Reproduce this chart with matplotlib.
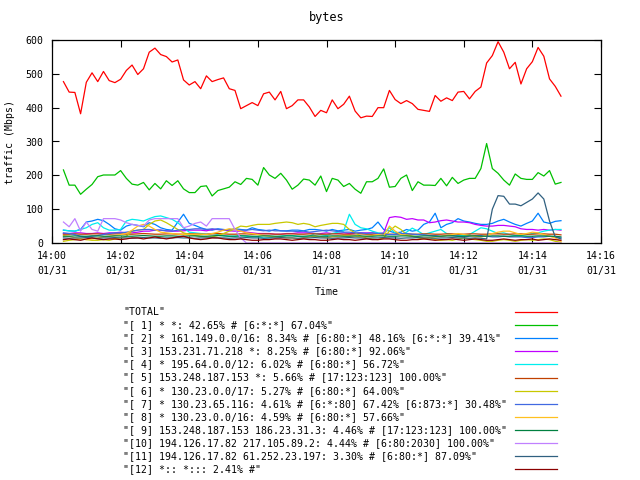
import pandas as pd
import matplotlib
matplotlib.use("Agg")
import matplotlib.pyplot as plt
import matplotlib.dates as mdates
from matplotlib.lines import Line2D

# sample times: every 10 s from 14:00:20
times = pd.date_range("2000-01-31 14:00:20", periods=88, freq="10s")

total = [477, 446, 445, 382, 475, 503, 477, 507, 480, 474,
         484, 510, 526, 498, 515, 564, 576, 557, 551, 535,
         541, 482, 467, 477, 456, 494, 477, 483, 488, 456,
         451, 397, 406, 415, 406, 441, 446, 423, 448, 397,
         406, 423, 423, 402, 374, 392, 385, 423, 397, 410,
         434, 390, 370, 375, 374, 400, 400, 451, 424, 412,
         421, 412, 395, 392, 389, 436, 419, 429, 421, 446,
         448, 426, 448, 461, 532, 554, 595, 564, 515, 534,
         470, 515, 536, 578, 552, 485, 463, 434]

s1 = [216, 171, 171, 144, 159, 173, 196, 201, 201, 201,
      214, 191, 174, 171, 179, 157, 176, 160, 184, 170,
      184, 160, 149, 149, 167, 169, 139, 155, 160, 165,
      181, 173, 191, 188, 171, 223, 201, 191, 206, 186,
      159, 171, 189, 186, 171, 198, 152, 191, 186, 167,
      176, 159, 147, 181, 181, 191, 219, 165, 167, 191,
      201, 155, 181, 171, 171, 170, 191, 169, 194, 176,
      186, 191, 191, 220, 294, 220, 206, 186, 171, 204,
      191, 188, 188, 208, 198, 214, 174, 179]

s2 = [38, 36, 35, 40, 62, 65, 70, 66, 55, 42,
      38, 50, 55, 52, 48, 60, 55, 45, 40, 38,
      62, 85, 58, 52, 45, 40, 38, 42, 40, 38,
      42, 40, 38, 45, 40, 38, 35, 40, 36, 36,
      38, 38, 36, 40, 40, 38, 35, 40, 36, 38,
      40, 35, 38, 40, 45, 62, 40, 35, 30, 32,
      40, 35, 38, 55, 62, 88, 45, 55, 60, 72,
      65, 62, 58, 55, 55, 58, 65, 70, 62, 55,
      50, 58, 65, 88, 62, 58, 64, 66]

s3 = [28, 28, 30, 30, 28, 28, 30, 28, 30, 30,
      32, 30, 30, 32, 35, 35, 38, 38, 36, 35,
      35, 36, 38, 38, 38, 36, 40, 40, 38, 36,
      35, 35, 32, 30, 28, 28, 28, 26, 26, 28,
      28, 30, 30, 30, 28, 28, 30, 28, 28, 30,
      28, 28, 30, 30, 30, 28, 30, 75, 78, 76,
      70, 72, 68, 68, 60, 62, 66, 68, 65, 62,
      62, 60, 55, 52, 50, 50, 52, 52, 50, 48,
      42, 40, 40, 38, 40, 38, 40, 38]

s4 = [38, 36, 35, 40, 45, 55, 60, 45, 38, 38,
      40, 65, 70, 68, 65, 72, 78, 80, 75, 70,
      60, 45, 32, 30, 28, 26, 28, 25, 22, 20,
      20, 22, 20, 18, 18, 15, 15, 18, 20, 22,
      22, 20, 18, 20, 28, 25, 22, 28, 32, 35,
      85, 55, 45, 42, 35, 30, 28, 45, 30, 25,
      32, 44, 35, 25, 30, 35, 40, 28, 25, 22,
      22, 25, 35, 45, 42, 35, 28, 30, 25, 22,
      22, 25, 28, 30, 35, 38, 40, 40]

s5 = [26, 26, 27, 26, 26, 27, 27, 26, 26, 27,
      27, 26, 26, 27, 28, 27, 26, 26, 27, 27,
      26, 26, 27, 27, 26, 26, 27, 28, 27, 26,
      26, 27, 27, 26, 26, 27, 27, 26, 26, 27,
      27, 26, 26, 27, 27, 26, 26, 27, 27, 26,
      26, 27, 27, 26, 26, 27, 27, 26, 26, 27,
      27, 26, 26, 27, 27, 26, 26, 27, 27, 26,
      26, 27, 27, 26, 26, 27, 27, 26, 26, 27,
      27, 26, 26, 27, 27, 26, 26, 24]

s6 = [5, 8, 10, 12, 10, 8, 8, 10, 8, 12,
      15, 20, 35, 38, 40, 55, 65, 68, 60, 50,
      40, 30, 25, 22, 20, 18, 18, 22, 28, 35,
      42, 50, 48, 52, 55, 55, 55, 58, 60, 62,
      60, 55, 58, 55, 48, 52, 55, 58, 58, 55,
      40, 30, 20, 15, 12, 10, 15, 35, 50, 40,
      25, 20, 15, 12, 15, 10, 8, 10, 8, 12,
      15, 12, 10, 8, 5, 5, 8, 10, 8, 5,
      8, 10, 8, 10, 12, 10, 5, 2]

s7 = [30, 28, 25, 20, 18, 20, 22, 25, 28, 30,
      30, 32, 35, 38, 40, 40, 38, 38, 36, 35,
      38, 40, 40, 42, 42, 40, 42, 40, 38, 40,
      40, 38, 38, 40, 38, 36, 38, 36, 36, 35,
      35, 34, 35, 32, 34, 36, 38, 36, 34, 32,
      32, 30, 30, 28, 30, 28, 26, 25, 25, 28,
      28, 26, 25, 24, 22, 22, 20, 22, 22, 20,
      18, 20, 22, 22, 20, 18, 18, 20, 18, 18,
      18, 16, 16, 18, 18, 20, 18, 15]

s8 = [22, 20, 15, 12, 10, 12, 15, 18, 20, 22,
      25, 28, 38, 50, 55, 50, 40, 32, 30, 28,
      26, 25, 25, 26, 26, 25, 28, 32, 38, 42,
      40, 35, 30, 28, 25, 22, 20, 18, 18, 15,
      15, 12, 15, 18, 20, 18, 15, 18, 20, 22,
      22, 20, 18, 20, 22, 25, 22, 50, 35, 25,
      22, 20, 18, 15, 15, 18, 20, 22, 25, 28,
      25, 22, 20, 18, 22, 28, 32, 35, 35, 30,
      25, 28, 32, 30, 25, 20, 15, 5]

s9 = [20, 20, 21, 20, 20, 21, 21, 20, 20, 21,
      21, 20, 20, 21, 22, 21, 20, 20, 21, 21,
      20, 20, 21, 21, 20, 20, 21, 22, 21, 20,
      20, 21, 21, 20, 20, 21, 21, 20, 20, 21,
      21, 20, 20, 21, 21, 20, 20, 21, 21, 20,
      20, 21, 21, 20, 20, 21, 21, 20, 20, 21,
      21, 20, 20, 21, 21, 20, 20, 21, 21, 20,
      20, 21, 21, 20, 20, 21, 21, 20, 20, 21,
      21, 20, 20, 21, 21, 20, 20, 18]

s10 = [62, 48, 72, 35, 62, 40, 35, 72, 72, 72,
       68, 60, 55, 52, 50, 68, 72, 72, 72, 72,
       72, 45, 50, 58, 62, 50, 72, 72, 72, 72,
       40, 15, 0, 0, 0, 0, 0, 0, 0, 0,
       0, 0, 0, 0, 0, 0, 0, 0, 0, 0,
       0, 0, 0, 0, 0, 0, 0, 0, 0, 0,
       0, 0, 0, 0, 0, 0, 0, 0, 0, 0,
       0, 0, 0, 0, 0, 0, 0, 0, 0, 0,
       0, 0, 0, 0, 0, 0, 0, 0]

s11 = [15, 14, 15, 15, 16, 15, 14, 15, 15, 16,
       15, 15, 14, 15, 16, 15, 15, 14, 15, 15,
       16, 15, 15, 14, 15, 15, 16, 15, 15, 14,
       15, 15, 16, 15, 15, 14, 15, 15, 16, 15,
       15, 14, 15, 15, 16, 15, 15, 14, 15, 15,
       16, 15, 15, 14, 15, 15, 16, 15, 15, 14,
       15, 15, 16, 15, 15, 14, 15, 15, 16, 15,
       15, 14, 15, 14, 12, 100, 140, 138, 115, 115,
       110, 120, 130, 148, 130, 65, 18, 12]

s12 = [10, 12, 10, 8, 12, 15, 12, 10, 12, 12,
       10, 12, 15, 15, 12, 15, 18, 15, 12, 15,
       18, 20, 15, 12, 10, 12, 15, 15, 12, 10,
       10, 12, 10, 8, 8, 10, 10, 12, 12, 10,
       8, 10, 12, 10, 10, 8, 8, 10, 12, 10,
       10, 8, 10, 12, 10, 10, 12, 12, 10, 8,
       8, 10, 10, 12, 10, 8, 10, 10, 12, 10,
       8, 10, 12, 10, 8, 8, 10, 12, 10, 8,
       10, 10, 12, 8, 10, 12, 10, 8]

labels = [
    '"TOTAL"',
    '"[ 1] * *: 42.65% # [6:*:*] 67.04%"',
    '"[ 2] * 161.149.0.0/16: 8.34% # [6:80:*] 48.16% [6:*:*] 39.41%"',
    '"[ 3] 153.231.71.218 *: 8.25% # [6:80:*] 92.06%"',
    '"[ 4] * 195.64.0.0/12: 6.02% # [6:80:*] 56.72%"',
    '"[ 5] 153.248.187.153 *: 5.66% # [17:123:123] 100.00%"',
    '"[ 6] * 130.23.0.0/17: 5.27% # [6:80:*] 64.00%"',
    '"[ 7] * 130.23.65.116: 4.61% # [6:*:80] 67.42% [6:873:*] 30.48%"',
    '"[ 8] * 130.23.0.0/16: 4.59% # [6:80:*] 57.66%"',
    '"[ 9] 153.248.187.153 186.23.31.3: 4.46% # [17:123:123] 100.00%"',
    '"[10] 194.126.17.82 217.105.89.2: 4.44% # [6:80:2030] 100.00%"',
    '"[11] 194.126.17.82 61.252.23.197: 3.30% # [6:80:*] 87.09%"',
    '"[12] *:: *::: 2.41% #"',
]
series = [total, s1, s2, s3, s4, s5, s6, s7, s8, s9, s10, s11, s12]
colors = ["#ff0000", "#00c000", "#0080ff", "#c000ff", "#00eeee", "#c04000",
          "#c8c800", "#4169e1", "#ffc020", "#008040", "#c080ff", "#306080",
          "#8b0000"]

plt.rcParams["font.family"] = ["DejaVu Sans Mono"]
plt.rcParams["font.size"] = 7.1

fig = plt.figure(figsize=(6.4, 4.8), dpi=100)
ax = fig.add_axes([52 / 640, 1 - 243 / 480, 549 / 640, 203 / 480])

for vals, c in zip(series, colors):
    ax.plot(times, vals, color=c, lw=0.9)

ax.set_ylim(0, 600)
ax.set_yticks(range(0, 601, 100))
ax.set_xlim(pd.Timestamp("2000-01-31 14:00"), pd.Timestamp("2000-01-31 14:16"))
ax.xaxis.set_major_locator(mdates.MinuteLocator(byminute=range(0, 60, 2)))
ax.xaxis.set_major_formatter(mdates.DateFormatter("%H:%M\n%m/%d"))
ax.tick_params(direction="in", top=True, right=True, length=5, width=0.8, pad=6)
for lab in ax.get_xticklabels():
    lab.set_linespacing(1.6)
for sp in ax.spines.values():
    sp.set_linewidth(0.9)

ax.set_title("bytes", pad=14)
ax.set_ylabel("traffic (Mbps)", labelpad=8)
ax.set_xlabel("Time", labelpad=8)

# key below the plot
for k, (lab, c) in enumerate(zip(labels, colors)):
    y = 1 - (312 + 13.1 * k) / 480
    fig.text(123 / 640, y, lab, ha="left", va="center")
    fig.add_artist(Line2D([515 / 640, 557 / 640], [y, y], color=c, lw=0.9,
                          transform=fig.transFigure))

fig.savefig("out.png", dpi=100)
